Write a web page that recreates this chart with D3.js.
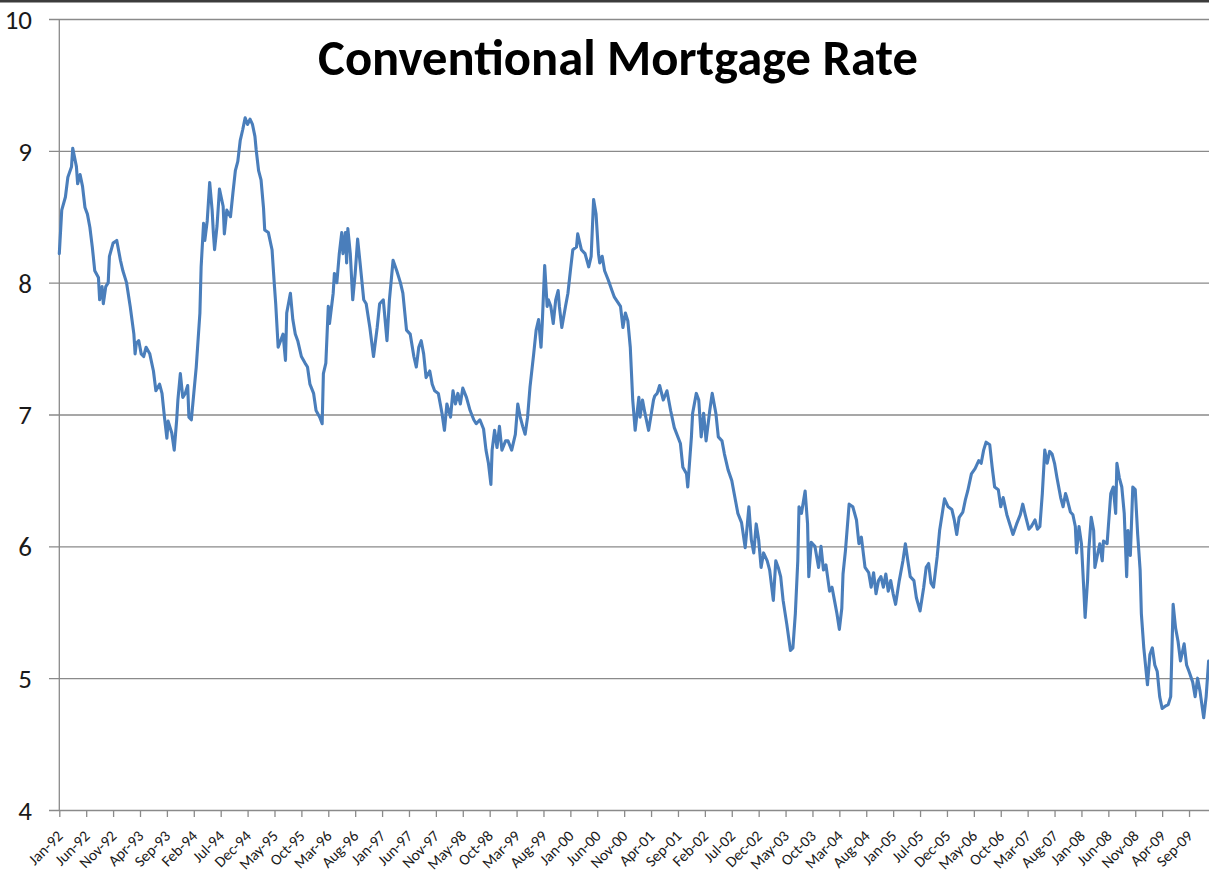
<!DOCTYPE html>
<html>
<head>
<meta charset="utf-8">
<script src="https://cdn.jsdelivr.net/npm/d3@7/dist/d3.min.js"></script>
<style>
  html, body { margin: 0; padding: 0; background: #ffffff; }
  svg { display: block; }
  .tick text { font-family: Carlito, Calibri, Lato, "Open Sans", sans-serif; fill: #1a1a1a; }
</style>
</head>
<body>
<svg id="chart" width="1209" height="880"></svg>
<script>
// ---- Data ----
const title = "Conventional Mortgage Rate";
const startDate = "1992-01-03";            // first weekly observation
const tickEveryWeeks = 22;                 // category label interval
const tickLabels = ["Jan-92","Jun-92","Nov-92","Apr-93","Sep-93","Feb-94","Jul-94","Dec-94","May-95","Oct-95",
  "Mar-96","Aug-96","Jan-97","Jun-97","Nov-97","May-98","Oct-98","Mar-99","Aug-99","Jan-00","Jun-00","Nov-00",
  "Apr-01","Sep-01","Feb-02","Jul-02","Dec-02","May-03","Oct-03","Mar-04","Aug-04","Jan-05","Jul-05","Dec-05",
  "May-06","Oct-06","Mar-07","Aug-07","Jan-08","Jun-08","Nov-08","Apr-09","Sep-09"];
const yTicks = [4, 5, 6, 7, 8, 9, 10];
const totalWeeks = 940;

// week number since startDate
const weeks = [0,2,5,7,10,11,14,15,17,19,21,23,25,27,29,32,33,35,36,38,40,41,44,47,50,52,55,58,61,62,63,65,67,69,71,74,77,79,82,84,86,88,89,92,94,96,97,99,101,103,105,106,108,110,112,115,116,118,119,121,123,125,126,127,129,131,134,135,137,140,142,144,146,148,150,152,154,156,158,160,161,163,165,167,168,171,174,176,177,179,181,183,185,186,189,191,193,195,198,201,203,205,208,210,213,215,216,218,220,221,224,225,227,229,231,232,234,235,236,238,240,242,244,246,249,251,254,257,260,262,265,268,270,273,276,279,281,284,287,290,292,294,296,298,300,303,305,307,310,313,315,317,320,322,324,326,328,330,333,336,339,341,344,347,349,351,353,354,356,358,360,362,365,367,370,373,375,377,379,381,383,385,388,390,392,394,395,397,399,400,402,404,406,408,409,411,414,416,418,420,423,424,427,430,433,435,437,439,441,442,444,446,449,452,454,459,461,463,465,467,468,469,471,474,475,477,479,482,486,487,489,491,494,497,500,503,508,510,513,514,517,518,521,523,525,527,529,532,534,537,539,542,544,547,550,553,555,558,561,562,564,566,568,570,572,574,576,579,581,584,586,588,590,592,595,598,600,602,604,605,607,610,612,613,615,618,621,623,625,627,630,632,634,636,638,640,641,643,646,649,652,654,656,659,662,664,666,668,670,672,674,676,678,680,682,684,687,690,692,694,696,699,701,704,707,709,711,713,715,718,720,722,724,727,730,732,734,736,739,741,743,746,749,752,754,756,758,761,763,765,768,770,772,775,778,780,783,786,788,790,793,795,798,800,802,804,806,808,810,812,814,816,819,821,823,824,827,829,831,832,834,836,838,839,841,842,844,846,847,849,851,853,854,857,858,860,862,864,865,867,869,871,873,874,876,878,880,882,884,885,887,890,892,894,896,898,900,902,905,907,909,911,913,915,917,920,922,924,927,929,931,933,936,938,940];

const rates = [8.22,8.55,8.65,8.80,8.88,9.02,8.88,8.75,8.82,8.73,8.57,8.52,8.42,8.27,8.09,8.04,7.87,7.97,7.84,7.97,8.00,8.20,8.30,8.32,8.17,8.09,8.00,7.82,7.61,7.46,7.54,7.56,7.46,7.44,7.51,7.46,7.33,7.18,7.23,7.16,6.98,6.82,6.95,6.86,6.73,6.96,7.11,7.31,7.13,7.16,7.22,6.98,6.96,7.16,7.36,7.77,8.12,8.45,8.32,8.47,8.76,8.55,8.38,8.25,8.43,8.71,8.58,8.37,8.55,8.50,8.68,8.85,8.92,9.08,9.16,9.25,9.20,9.24,9.20,9.11,9.01,8.85,8.78,8.57,8.40,8.38,8.25,7.97,7.84,7.51,7.56,7.61,7.41,7.77,7.92,7.72,7.61,7.56,7.44,7.39,7.36,7.23,7.16,7.03,6.98,6.93,7.31,7.39,7.82,7.69,7.92,8.07,8.00,8.22,8.38,8.22,8.38,8.15,8.41,8.22,7.87,8.07,8.33,8.15,7.87,7.84,7.66,7.44,7.66,7.84,7.87,7.56,7.87,8.17,8.09,8.00,7.92,7.64,7.61,7.44,7.36,7.51,7.56,7.46,7.28,7.33,7.23,7.18,7.16,7.01,6.88,7.08,6.98,7.18,7.08,7.16,7.08,7.20,7.13,7.03,6.96,6.93,6.96,6.89,6.73,6.63,6.47,6.73,6.88,6.75,6.91,6.73,6.80,6.80,6.73,6.85,7.08,6.98,6.91,6.85,6.98,7.21,7.46,7.64,7.72,7.51,7.69,8.13,7.82,7.87,7.82,7.69,7.87,7.94,7.82,7.66,7.82,7.92,8.09,8.25,8.27,8.37,8.25,8.22,8.12,8.20,8.63,8.52,8.22,8.15,8.20,8.09,8.02,7.94,7.89,7.82,7.66,7.77,7.71,7.51,7.31,7.11,6.88,7.13,6.98,7.11,7.01,6.88,7.11,7.14,7.16,7.22,7.11,7.18,7.03,6.90,6.78,6.60,6.55,6.45,6.83,7.01,7.16,7.11,6.83,7.01,6.80,7.03,7.16,7.01,6.83,6.80,6.70,6.58,6.50,6.35,6.25,6.18,5.99,6.09,6.30,6.05,5.95,6.17,6.05,5.84,5.95,5.89,5.82,5.59,5.89,5.84,5.77,5.59,5.41,5.21,5.23,5.49,5.89,6.30,6.25,6.42,6.17,5.77,6.03,6.00,5.84,6.00,5.82,5.86,5.66,5.69,5.59,5.49,5.37,5.53,5.79,5.97,6.32,6.30,6.20,6.02,6.07,5.84,5.80,5.69,5.80,5.64,5.74,5.77,5.69,5.79,5.66,5.74,5.64,5.56,5.74,5.89,6.02,5.89,5.77,5.74,5.61,5.51,5.69,5.84,5.87,5.72,5.69,5.92,6.12,6.24,6.36,6.30,6.28,6.20,6.09,6.22,6.26,6.35,6.42,6.55,6.59,6.65,6.63,6.73,6.79,6.77,6.60,6.45,6.43,6.30,6.37,6.24,6.15,6.09,6.17,6.24,6.32,6.24,6.13,6.15,6.20,6.13,6.15,6.40,6.73,6.63,6.72,6.70,6.63,6.52,6.37,6.30,6.40,6.37,6.26,6.24,6.15,5.95,6.15,6.02,5.66,5.46,5.74,5.97,6.22,6.12,5.84,5.93,6.02,5.89,6.04,6.02,6.15,6.40,6.45,6.25,6.63,6.52,6.45,6.25,5.77,6.12,5.93,6.45,6.43,6.09,5.82,5.49,5.23,4.95,5.18,5.23,5.10,5.05,4.86,4.77,4.79,4.80,4.86,5.56,5.38,5.28,5.13,5.26,5.10,5.05,4.97,4.86,5.00,4.90,4.70,4.86,5.13];

// ---- Layout ----
const W = 1209, H = 880;
const plotLeft = 59.3, plotRight = 1208.6, plotTop = 19, plotBottom = 810;
const gridLeft = 49, gridRight = 1209;
const fontFamily = 'Carlito, Calibri, Lato, "Open Sans", sans-serif';

const svg = d3.select("#chart");
svg.append("rect").attr("width", W).attr("height", H).attr("fill", "#ffffff");

const x = d3.scaleLinear().domain([0, totalWeeks]).range([plotLeft, plotRight]);
const y = d3.scaleLinear().domain([d3.min(yTicks), d3.max(yTicks)]).range([plotBottom, plotTop]);

// top frame line
svg.append("line").attr("x1", 0).attr("x2", W).attr("y1", 1.2).attr("y2", 1.2)
  .attr("stroke", "#3c3c3c").attr("stroke-width", 2.4);

// y axis with gridlines
const yAxis = d3.axisLeft(y).tickValues(yTicks).tickFormat(d3.format("d"))
  .tickSize(-(gridRight - gridLeft)).tickPadding(17);
const gy = svg.append("g").attr("transform", `translate(${gridLeft},0)`).call(yAxis);
gy.select(".domain").remove();
gy.selectAll(".tick line").attr("stroke", "#8a8a8a").attr("stroke-width", 1.3);
gy.selectAll(".tick text").style("font-size", "27px").attr("font-family", fontFamily).attr("dy", "0.35em");

// vertical axis line
svg.append("line").attr("x1", plotLeft).attr("x2", plotLeft).attr("y1", y(10)).attr("y2", y(4))
  .attr("stroke", "#8a8a8a").attr("stroke-width", 1.3);

// x axis
const tickWeeks = tickLabels.map((_, i) => i * tickEveryWeeks);
const xAxis = d3.axisBottom(x).tickValues(tickWeeks).tickFormat((d, i) => tickLabels[i])
  .tickSize(7).tickSizeOuter(0);
const gx = svg.append("g").attr("transform", `translate(0,${plotBottom})`).call(xAxis);
gx.select(".domain").remove();
gx.selectAll(".tick line").attr("stroke", "#8a8a8a").attr("stroke-width", 1.3);
gx.selectAll(".tick text")
  .style("font-size", "15.5px").attr("font-family", fontFamily)
  .attr("text-anchor", "end").attr("dy", null).attr("y", null)
  .attr("transform", "translate(4,27) rotate(-45)");

// the line
const pts = weeks.map((w, i) => [w, rates[i]]);
const line = d3.line().x(d => x(d[0])).y(d => y(d[1]));
svg.append("path").datum(pts).attr("d", line)
  .attr("fill", "none").attr("stroke", "#4a7ebb").attr("stroke-width", 3.1)
  .attr("stroke-linejoin", "round").attr("stroke-linecap", "round");

// title, fitted to the reference width
const t = svg.append("text").text(title)
  .attr("x", 618).attr("y", 75).attr("text-anchor", "middle")
  .attr("font-family", fontFamily).attr("font-weight", "bold")
  .attr("font-size", 40).attr("fill", "#000");
const tw = t.node().getComputedTextLength();
t.attr("font-size", 40 * 600 / tw);
</script>
</body>
</html>
